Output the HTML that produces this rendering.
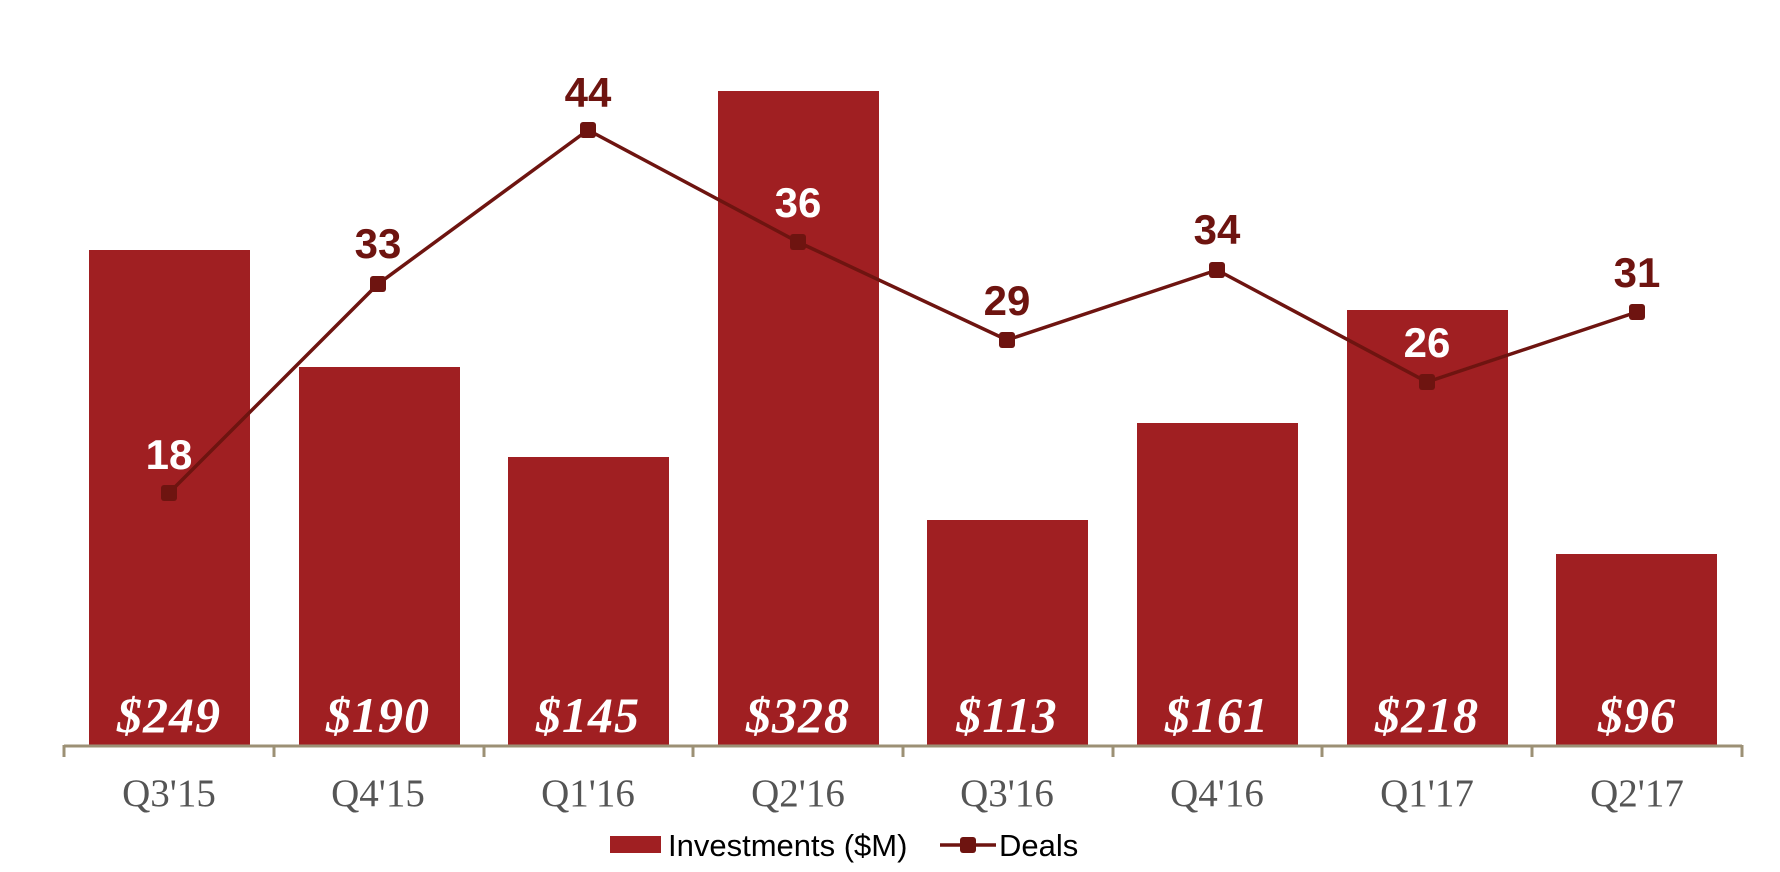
<!DOCTYPE html>
<html><head><meta charset="utf-8"><style>
html,body{margin:0;padding:0;background:#fff;}
svg{display:block;}
</style></head><body>
<svg width="1780" height="872" viewBox="0 0 1780 872" xmlns="http://www.w3.org/2000/svg">
<g fill="#a01f22">
<rect x="89" y="250" width="161" height="496"/>
<rect x="299" y="367" width="161" height="379"/>
<rect x="508" y="457" width="161" height="289"/>
<rect x="718" y="91" width="161" height="655"/>
<rect x="927" y="520" width="161" height="226"/>
<rect x="1137" y="423" width="161" height="323"/>
<rect x="1347" y="310" width="161" height="436"/>
<rect x="1556" y="554" width="161" height="192"/>
</g>
<g stroke="#9c9075" stroke-width="3" fill="none">
<line x1="64" y1="746" x2="1742" y2="746"/>
<line x1="64" y1="745" x2="64" y2="757"/>
<line x1="274" y1="745" x2="274" y2="757"/>
<line x1="484" y1="745" x2="484" y2="757"/>
<line x1="693" y1="745" x2="693" y2="757"/>
<line x1="903" y1="745" x2="903" y2="757"/>
<line x1="1113" y1="745" x2="1113" y2="757"/>
<line x1="1322" y1="745" x2="1322" y2="757"/>
<line x1="1532" y1="745" x2="1532" y2="757"/>
<line x1="1742" y1="745" x2="1742" y2="757"/>
</g>
<polyline points="169,493 378,284 588,130 798,242 1007,340 1217,270 1427,382 1637,312" fill="none" stroke="#6e1410" stroke-width="3.5"/>
<g fill="#6e1410">
<rect x="161" y="485" width="16" height="16" rx="3"/>
<rect x="370" y="276" width="16" height="16" rx="3"/>
<rect x="580" y="122" width="16" height="16" rx="3"/>
<rect x="790" y="234" width="16" height="16" rx="3"/>
<rect x="999" y="332" width="16" height="16" rx="3"/>
<rect x="1209" y="262" width="16" height="16" rx="3"/>
<rect x="1419" y="374" width="16" height="16" rx="3"/>
<rect x="1629" y="304" width="16" height="16" rx="3"/>
</g>
<g font-family="Liberation Sans, sans-serif" font-weight="bold" font-size="42" text-anchor="middle">
<text x="169" y="469" fill="#fff">18</text>
<text x="378" y="258" fill="#6e1410">33</text>
<text x="588" y="107" fill="#6e1410">44</text>
<text x="798" y="217" fill="#fff">36</text>
<text x="1007" y="315" fill="#6e1410">29</text>
<text x="1217" y="244" fill="#6e1410">34</text>
<text x="1427" y="357" fill="#fff">26</text>
<text x="1637" y="287" fill="#6e1410">31</text>
</g>
<g font-family="Liberation Serif, serif" font-weight="bold" font-style="italic" font-size="50" fill="#fff" text-anchor="middle" letter-spacing="1">
<text x="169" y="732">$249</text>
<text x="378" y="732">$190</text>
<text x="588" y="732">$145</text>
<text x="798" y="732">$328</text>
<text x="1007" y="732">$113</text>
<text x="1217" y="732">$161</text>
<text x="1427" y="732">$218</text>
<text x="1637" y="732">$96</text>
</g>
<g font-family="Liberation Serif, serif" font-size="39" fill="#555" text-anchor="middle">
<text x="169" y="806">Q3'15</text>
<text x="378" y="806">Q4'15</text>
<text x="588" y="806">Q1'16</text>
<text x="798" y="806">Q2'16</text>
<text x="1007" y="806">Q3'16</text>
<text x="1217" y="806">Q4'16</text>
<text x="1427" y="806">Q1'17</text>
<text x="1637" y="806">Q2'17</text>
</g>
<rect x="610" y="836" width="51" height="17" fill="#a01f22"/>
<text x="668" y="856" font-family="Liberation Sans, sans-serif" font-size="31" fill="#000">Investments ($M)</text>
<line x1="940" y1="845" x2="996" y2="845" stroke="#6e1410" stroke-width="3.5"/>
<rect x="960" y="837" width="16" height="16" rx="3" fill="#6e1410"/>
<text x="999" y="856" font-family="Liberation Sans, sans-serif" font-size="31" fill="#000">Deals</text>
</svg>
</body></html>
